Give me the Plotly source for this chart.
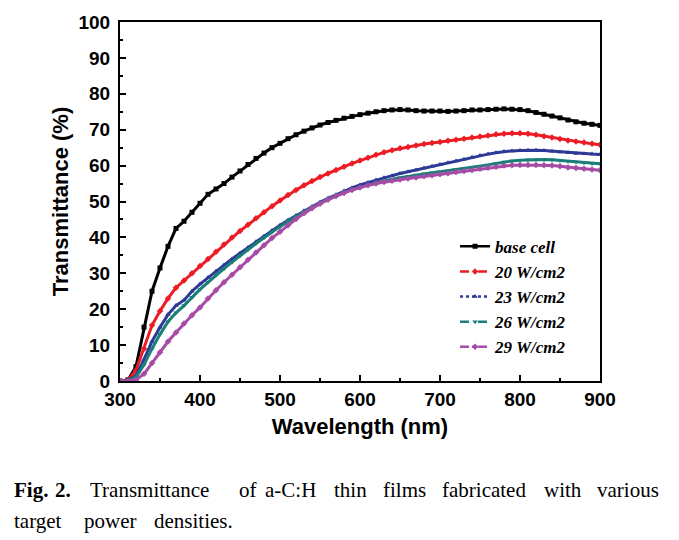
import plotly.graph_objects as go

wavelength = list(range(300, 910, 10))

base_cell = [0, 0.3, 4, 15, 25, 31.5, 37.5, 42.5, 44.5, 47, 49.5, 52, 53.5, 55, 56.8, 58.5, 60.3, 62, 63.5, 65,
             66.2, 67.5, 68.6, 69.6, 70.5, 71.3, 72, 72.6, 73.2, 73.7, 74.2, 74.6, 75, 75.3, 75.5, 75.6, 75.5, 75.3,
             75.2, 75.2, 75.2, 75.1, 75.2, 75.3, 75.5, 75.5, 75.6, 75.7, 75.8, 75.7, 75.6, 75.3, 74.8, 74.3, 73.8,
             73.3, 72.7, 72.2, 71.8, 71.5, 71.2]
w20 = [0, 0.2, 3, 9, 15.5, 19.5, 23, 26, 28, 30, 32, 34, 36, 38, 40, 41.8, 43.5, 45.3, 47, 48.7,
       50.3, 51.8, 53.2, 54.5, 55.7, 56.8, 57.8, 58.8, 59.7, 60.6, 61.4, 62.2, 63, 63.7, 64.3, 64.8, 65.2, 65.6,
       66, 66.3, 66.6, 66.9, 67.2, 67.5, 67.8, 68.1, 68.4, 68.7, 68.9, 69, 69, 68.9, 68.6, 68.2, 67.8,
       67.4, 67, 66.7, 66.4, 66.1, 65.8]
w23 = [0, 0.1, 1.5, 6, 11, 15, 18.5, 21, 22.5, 25, 27, 28.8, 30.6, 32.3, 34, 35.6, 37.2, 38.8, 40.3, 41.9,
       43.4, 44.8, 46.1, 47.4, 48.6, 49.8, 50.9, 51.9, 52.9, 53.8, 54.6, 55.3, 56, 56.6, 57.2, 57.8, 58.3, 58.8,
       59.3, 59.8, 60.3, 60.8, 61.3, 61.8, 62.3, 62.8, 63.2, 63.6, 63.9, 64.1, 64.2, 64.3, 64.3, 64.2, 64,
       63.8, 63.6, 63.4, 63.3, 63.2, 63.1]
w26 = [0, 0.1, 1, 4.5, 9, 13, 16.5, 19, 21, 23.3, 25.5, 27.5, 29.5, 31.3, 33.1, 34.9, 36.6, 38.3, 39.9, 41.5,
       43, 44.4, 45.8, 47.1, 48.3, 49.5, 50.6, 51.6, 52.5, 53.3, 54, 54.6, 55.2, 55.7, 56.2, 56.6, 57, 57.4,
       57.7, 58, 58.3, 58.6, 58.9, 59.2, 59.5, 59.8, 60.2, 60.6, 61, 61.3, 61.5, 61.6, 61.7, 61.7, 61.6,
       61.4, 61.2, 61, 60.8, 60.6, 60.5]
w29 = [0, 0, 0.3, 2, 5, 8, 11, 13.5, 16, 18.3, 20.5, 23, 25.3, 27.5, 29.6, 31.7, 33.8, 35.8, 37.8, 39.8,
       41.6, 43.4, 45.1, 46.7, 48.1, 49.4, 50.5, 51.5, 52.4, 53.2, 53.9, 54.5, 55, 55.4, 55.8, 56.1, 56.4, 56.7,
       57, 57.3, 57.6, 57.9, 58.2, 58.5, 58.8, 59.1, 59.4, 59.7, 60, 60.1, 60.2, 60.2, 60.2, 60.1, 60,
       59.8, 59.5, 59.3, 59.1, 58.9, 58.7]

series_names = ["base cell", "20 W/cm2", "23 W/cm2", "26 W/cm2", "29 W/cm2"]
series_values = [base_cell, w20, w23, w26, w29]
colors = ["#000000", "#ED1C24", "#2E3A96", "#1A7F78", "#A64CA6"]
symbols = ["square", "diamond", "triangle-up", "triangle-down", "diamond"]
dashes = ["solid", "dash", "dot", "dash", "dashdot"]

caption_line1 = ["<b>Fig.</b>", "<b>2.</b>", "Transmittance", "of", "a-C:H", "thin", "films",
                 "fabricated", "with", "various"]
caption_line2 = ["target", "power", "densities."]

fig = go.Figure()

for name, vals, col, sym in zip(series_names, series_values, colors, symbols):
    fig.add_trace(go.Scatter(
        x=wavelength, y=vals, mode="lines+markers", name=name, showlegend=False,
        line=dict(color=col, width=3), marker=dict(symbol=sym, size=5, color=col),
        hoverinfo="skip"))

for name, col, sym, dash in zip(series_names, colors, symbols, dashes):
    fig.add_trace(go.Scatter(
        x=[None], y=[None], mode="lines+markers", name=name,
        line=dict(color=col, width=2.5, dash=dash), marker=dict(symbol=sym, size=5, color=col)))

tickfont = dict(family="Liberation Sans, Arial", size=19, color="#000", weight="bold")
titlefont = dict(family="Liberation Sans, Arial", size=22, color="#000", weight="bold")

fig.update_xaxes(range=[300, 900], dtick=100, tick0=300, showline=True, linewidth=2, linecolor="#000",
                 mirror=True, ticks="inside", ticklen=6, tickwidth=1.5, tickcolor="#000", automargin=False,
                 minor=dict(ticks="inside", ticklen=3, dtick=50, tickcolor="#000", tickwidth=1.5),
                 showgrid=False, zeroline=False, tickfont=tickfont,
                 title=dict(text="Wavelength (nm)", font=titlefont, standoff=10))
fig.update_yaxes(range=[0, 100], dtick=10, showline=True, linewidth=2, linecolor="#000",
                 mirror=True, ticks="inside", ticklen=6, tickwidth=1.5, tickcolor="#000", automargin=False,
                 minor=dict(ticks="inside", ticklen=3, dtick=5, tickcolor="#000", tickwidth=1.5),
                 showgrid=False, zeroline=False, tickfont=tickfont, ticklabelstandoff=4,
                 title=dict(text="Transmittance (%)", font=titlefont, standoff=4))

# caption words placed at justified positions (figure pixel x)
cap_font = dict(family="Liberation Serif, Times New Roman", size=21, color="#000")
line1_x = [12, 53, 88, 237, 263, 332, 381, 440, 542, 595]
line2_x = [12, 82, 152]
annotations = []
for txt, px in zip(caption_line1, line1_x):
    annotations.append(dict(text=txt, x=(px - 120) / 480, y=(381 - 490) / 359, xref="paper", yref="paper",
                            showarrow=False, xanchor="left", yanchor="middle", font=cap_font))
for txt, px in zip(caption_line2, line2_x):
    annotations.append(dict(text=txt, x=(px - 120) / 480, y=(381 - 521) / 359, xref="paper", yref="paper",
                            showarrow=False, xanchor="left", yanchor="middle", font=cap_font))

fig.update_layout(
    width=679, height=540,
    margin=dict(l=112, r=87, t=14, b=167),
    plot_bgcolor="white", paper_bgcolor="white",
    legend=dict(x=0.698, y=0.424, xanchor="left", yanchor="top", bgcolor="rgba(0,0,0,0)",
                font=dict(family="Liberation Serif, Times New Roman", size=17, color="#000",
                          style="italic", weight="bold"),
                tracegroupgap=0),
    annotations=annotations,
)

fig.write_html("out.html")
